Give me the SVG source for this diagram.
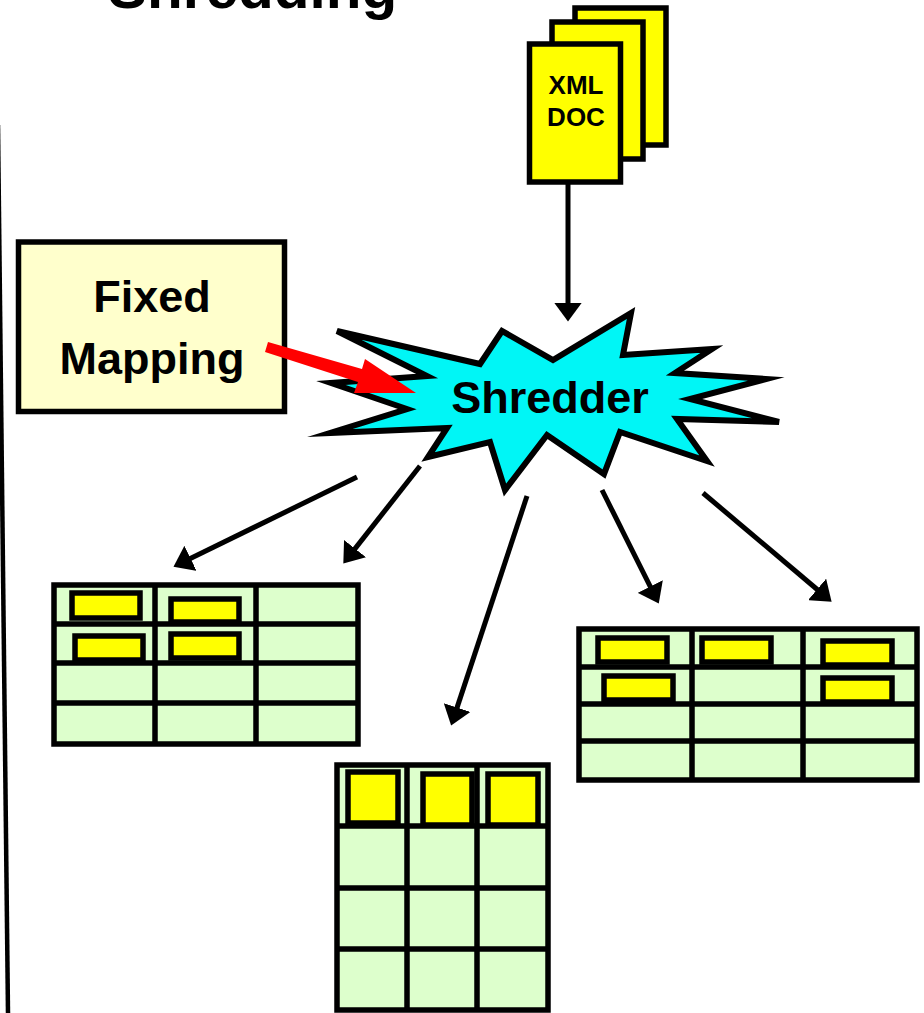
<svg xmlns="http://www.w3.org/2000/svg" width="924" height="1013" viewBox="0 0 924 1013">
<style>
text{font-family:"Liberation Sans",Arial,sans-serif;font-weight:bold;fill:#000;text-anchor:middle}
.doc{fill:#ff0;stroke:#000;stroke-width:5.500}
.cell{fill:#ff0;stroke:#000;stroke-width:5.500}
.tbl{fill:#ddffcc;stroke:#000;stroke-width:5.500}
.grid{fill:none;stroke:#000;stroke-width:5.500}
.con{fill:none;stroke:#000;stroke-width:5;marker-end:url(#head)}
</style>
<defs>
<marker id="head" viewBox="0 0 19 28" refX="2.500" refY="14" markerWidth="19" markerHeight="28" markerUnits="userSpaceOnUse" orient="auto"><path d="M0,0L19,14L0,28z" fill="#000"/></marker>
</defs>
<rect width="924" height="1013" fill="#fff"/>
<text id="title" x="108" y="8" font-size="58.5" style="text-anchor:start">Shredding</text>
<line id="divider" x1="-2" y1="125" x2="8" y2="1013" stroke="#000" stroke-width="4.5"/>
<g id="xml-doc">
<rect class="doc" x="575" y="8" width="91" height="137"/>
<rect class="doc" x="552" y="22" width="91" height="137"/>
<rect class="doc" x="529.500" y="44" width="91" height="138"/>
<text x="576" y="94" font-size="26">XML</text>
<text x="576" y="126" font-size="26">DOC</text>
</g>
<g id="fixed-mapping">
<rect x="18.500" y="242" width="266" height="169.500" fill="#ffffcc" stroke="#000" stroke-width="5.500"/>
<text x="152" y="312" font-size="45">Fixed</text>
<text x="152" y="374" font-size="45">Mapping</text>
</g>
<g id="shredder">
<polygon points="337,331 480,364 502,331 553,360 631,313 623,355 712,349 675,373 766,379 690,399 779,422 677,419 707,461 620,432 604,474 547,435 505,490 490,442 428,457 447,428 330,433 407,409 331,383 427,376" fill="#00f6f6" stroke="#000" stroke-width="6" stroke-miterlimit="8"/>
<text x="550" y="413" font-size="45">Shredder</text>
</g>
<g id="connectors">
<line class="con" x1="568" y1="182" x2="568" y2="305"/>
<line class="con" x1="357" y1="477" x2="188.300" y2="559.500"/>
<line class="con" x1="420" y1="466" x2="353.500" y2="550.600"/>
<line class="con" x1="527" y1="496" x2="456.300" y2="709.900"/>
<line class="con" x1="602" y1="490" x2="651.400" y2="588.800"/>
<line class="con" x1="703" y1="493" x2="819" y2="591"/>
<polygon id="mapping-arrow" points="265,352 268,342 362,369 365,359 416,393 354,393 358,382" fill="#f00"/>
</g>
<g id="table-left">
<rect class="tbl" x="54" y="585" width="304" height="159"/>
<path class="grid" d="M155,585V744M256,585V744M54,624H358M54,663H358M54,703H358"/>
<rect class="cell" x="72" y="593" width="68" height="25"/>
<rect class="cell" x="171" y="599" width="68" height="23"/>
<rect class="cell" x="75" y="636" width="68" height="24"/>
<rect class="cell" x="171" y="634" width="68" height="24"/>
</g>
<g id="table-middle">
<rect class="tbl" x="337" y="765" width="211" height="245"/>
<path class="grid" d="M407,765V1010M477,765V1010M337,826H548M337,888H548M337,949H548"/>
<rect class="cell" x="348" y="772" width="50" height="51"/>
<rect class="cell" x="423" y="774" width="49" height="51"/>
<rect class="cell" x="488" y="774" width="50" height="51"/>
</g>
<g id="table-right">
<rect class="tbl" x="579" y="629" width="338" height="151"/>
<path class="grid" d="M692,629V780M803,629V780M579,667H917M579,704H917M579,741H917"/>
<rect class="cell" x="598" y="638" width="69" height="24"/>
<rect class="cell" x="702" y="638" width="69" height="24"/>
<rect class="cell" x="823" y="641" width="69" height="24"/>
<rect class="cell" x="604" y="676" width="69" height="24"/>
<rect class="cell" x="823" y="678" width="69" height="24"/>
</g>
</svg>
